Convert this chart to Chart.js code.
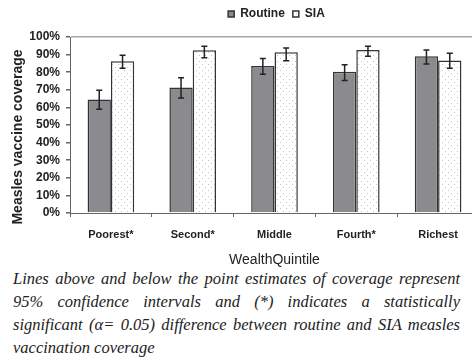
<!DOCTYPE html>
<html>
<head>
<meta charset="utf-8">
<script src="https://cdn.jsdelivr.net/npm/chart.js@4.4.1/dist/chart.umd.min.js"></script>
<style>
  html, body { margin: 0; padding: 0; background: #fff; overflow: hidden; width: 472px; height: 361px; }
  #wrap { position: absolute; left: 0; top: 0; width: 482px; height: 267px; }
  #note {
    position: absolute; left: 13px; top: 267px; width: 447px;
    font-family: 'Liberation Serif', 'Times New Roman', serif;
    font-style: italic; font-size: 16.5px; line-height: 23px; color: #222;
  }
  #note span { display: block; text-align: justify; text-align-last: justify; white-space: nowrap; }
  #note span.last { text-align-last: left; }
</style>
</head>
<body>
<div id="wrap"><canvas id="chart" width="482" height="267"></canvas></div>
<div id="note">
  <span>Lines above and below the point estimates of coverage represent</span>
  <span>95% confidence intervals and (*) indicates a statistically</span>
  <span>significant (&alpha;= 0.05) difference between routine and SIA measles</span>
  <span class="last">vaccination coverage</span>
</div>
<script>
// data
const categories = ['Poorest*', 'Second*', 'Middle', 'Fourth*', 'Richest'];
const routine = [64.5, 71.3, 83.5, 80.3, 89.0];
const routineLow = [59.0, 65.4, 78.8, 75.3, 84.7];
const routineHigh = [69.8, 76.9, 87.8, 84.3, 92.6];
const sia = [86.2, 92.5, 91.3, 92.6, 86.7];
const siaLow = [82.2, 88.2, 86.5, 89.0, 82.2];
const siaHigh = [89.7, 94.8, 93.8, 94.8, 90.7];

const SANS = "'Liberation Sans', Arial, sans-serif";

// dotted fill for SIA bars
function dotPattern() {
  const c = document.createElement('canvas');
  c.width = 6; c.height = 6;
  const g = c.getContext('2d');
  g.fillStyle = '#fff';
  g.fillRect(0, 0, 6, 6);
  g.fillStyle = '#c4c4c4';
  g.fillRect(1, 1, 1, 1);
  g.fillRect(4, 4, 1, 1);
  return g.createPattern(c, 'repeat');
}
const dots = dotPattern();

const intervals = [[routineLow, routineHigh], [siaLow, siaHigh]];

const errorBars = {
  id: 'errorBars',
  afterDatasetsDraw(chart) {
    const ctx = chart.ctx;
    const y = chart.scales.y;
    ctx.save();
    ctx.strokeStyle = '#222';
    ctx.lineWidth = 1.5;
    intervals.forEach((pair, di) => {
      const meta = chart.getDatasetMeta(di);
      meta.data.forEach((bar, i) => {
        const x = bar.x;
        const yl = y.getPixelForValue(pair[0][i]);
        const yh = y.getPixelForValue(pair[1][i]);
        ctx.beginPath();
        ctx.moveTo(x, yl); ctx.lineTo(x, yh);
        ctx.moveTo(x - 3, yl); ctx.lineTo(x + 3, yl);
        ctx.moveTo(x - 3, yh); ctx.lineTo(x + 3, yh);
        ctx.stroke();
      });
    });
    ctx.restore();
  }
};

// more room under the legend, legend centred over the plot,
// y title pushed down a little like the original
const tweaks = {
  id: 'tweaks',
  afterInit(chart) {
    const lg = chart.legend;
    const fit = lg.fit.bind(lg);
    lg.fit = function () { fit(); this.height += 7; };
    const draw = lg.draw.bind(lg);
    lg.draw = function () {
      this.ctx.save();
      this.ctx.translate(37, 0);
      draw();
      this.ctx.restore();
    };
  },
  beforeDraw(chart) {
    const s = chart.scales.y;
    if (s._shifted) return;
    const d = s.drawTitle.bind(s);
    s.drawTitle = function () {
      chart.ctx.save();
      chart.ctx.translate(0, 12);
      d();
      chart.ctx.restore();
    };
    s._shifted = true;
  }
};

const ctx = document.getElementById('chart').getContext('2d');
const chart = new Chart(ctx, {
  type: 'bar',
  data: {
    labels: categories,
    datasets: [
      {
        label: 'Routine',
        data: routine,
        backgroundColor: '#8b8b8f',
        borderColor: '#333',
        borderWidth: 1.5,
        barPercentage: 1,
        categoryPercentage: 0.57
      },
      {
        label: 'SIA',
        data: sia,
        backgroundColor: dots,
        borderColor: '#333',
        borderWidth: 1.5,
        barPercentage: 1,
        categoryPercentage: 0.57
      }
    ]
  },
  options: {
    responsive: false,
    animation: false,
    layout: { padding: { top: 0, right: 3, left: 0, bottom: 0 } },
    scales: {
      y: {
        min: 0,
        max: 100,
        afterFit(scale) { scale.width = 70; },
        ticks: {
          stepSize: 10,
          autoSkip: false,
          padding: 6,
          color: '#222',
          font: { family: SANS, size: 12, weight: 'bold' },
          callback: v => v + '%'
        },
        grid: {
          color: c => (c.tick && c.tick.value === 100) ? '#a8a8a8' : 'rgba(0,0,0,0)',
          lineWidth: 1.5,
          tickColor: '#666',
          tickLength: 4
        },
        border: { color: '#666', width: 1 },
        title: {
          display: true,
          text: 'Measles vaccine coverage',
          color: '#222',
          padding: { top: 10, bottom: 0 },
          font: { family: SANS, size: 14, weight: 'bold' }
        }
      },
      x: {
        afterFit(scale) { scale.height = 54; },
        ticks: {
          padding: 11,
          color: '#222',
          font: { family: SANS, size: 11, weight: 'bold' }
        },
        grid: {
          drawOnChartArea: false,
          color: '#666',
          tickColor: '#666',
          tickLength: 4
        },
        border: { color: '#666', width: 1 },
        title: {
          display: true,
          text: 'WealthQuintile',
          color: '#222',
          padding: { top: 0, bottom: -2 },
          font: { family: SANS, size: 14 }
        }
      }
    },
    plugins: {
      legend: {
        position: 'top',
        labels: {
          boxWidth: 6,
          boxHeight: 6,
          padding: 8,
          color: '#222',
          font: { family: SANS, size: 12, weight: 'bold' }
        }
      },
      tooltip: { enabled: false }
    }
  },
  plugins: [errorBars, tweaks]
});
</script>
</body>
</html>
